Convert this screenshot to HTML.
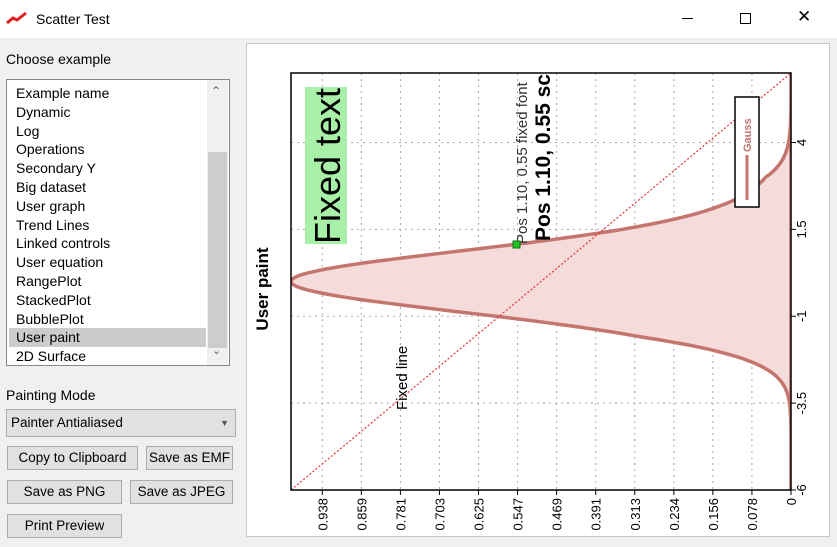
<!DOCTYPE html>
<html><head><meta charset="utf-8"><style>
body{margin:0;width:837px;height:547px;background:#f0f0f0;font-family:"Liberation Sans",sans-serif;position:relative;overflow:hidden}
.a{position:absolute}
.t{font-size:13px;color:#000}
.btn{position:absolute;background:#e1e1e1;border:1px solid #adadad;font-size:13.5px;text-align:center;box-sizing:border-box;line-height:21px}
</style></head><body>
<div class="a" style="left:0;top:0;width:837px;height:38px;background:#fff"></div>
<svg class="a" style="left:6px;top:10px" width="22" height="16"><path d="M1 13 L7 8 L11 10 L20 3" stroke="#e02020" stroke-width="3" fill="none"/></svg>
<div class="a" style="left:36px;top:11px;font-size:14px">Scatter Test</div>
<div class="a" style="left:682px;top:18px;width:11px;height:1px;background:#000"></div>
<div class="a" style="left:740px;top:13px;width:9px;height:9px;border:1px solid #000"></div>
<div class="a" style="left:797px;top:7px;font-size:17px">✕</div>
<div class="a t" style="left:6px;top:51px;font-size:14px">Choose example</div>
<div class="a" style="left:6px;top:79px;width:222px;height:285px;background:#fff;border:1px solid #828790"></div>
<div class="a" style="left:207px;top:80px;width:21px;height:285px;background:#f0f0f0"></div>
<div class="a" style="left:208px;top:152px;width:19px;height:196px;background:#cdcdcd"></div>
<div class="a" style="left:211px;top:84px;font-size:12px;color:#606060">⌃</div>
<div class="a" style="left:212px;top:344px;font-size:11px;color:#606060">⌄</div>
<div class="a" style="left:9px;top:328px;width:197px;height:19px;background:#cccccc"></div>
<div class="a t" style="left:16px;top:84px;line-height:18.8px;font-size:14px">Example name<br>Dynamic<br>Log<br>Operations<br>Secondary Y<br>Big dataset<br>User graph<br>Trend Lines<br>Linked controls<br>User equation<br>RangePlot<br>StackedPlot<br>BubblePlot<br>User paint<br>2D Surface</div>
<div class="a t" style="left:6px;top:387px;font-size:14px">Painting Mode</div>
<div class="btn" style="left:6px;top:409px;width:230px;height:28px;line-height:26px;text-align:left;padding-left:4px">Painter Antialiased<span style="position:absolute;right:6px;top:0;font-size:9px;color:#555">▼</span></div>
<div class="btn" style="left:7px;top:446px;width:131px;height:24px">Copy to Clipboard</div>
<div class="btn" style="left:146px;top:446px;width:87px;height:24px">Save as EMF</div>
<div class="btn" style="left:7px;top:480px;width:115px;height:24px">Save as PNG</div>
<div class="btn" style="left:130px;top:480px;width:103px;height:24px">Save as JPEG</div>
<div class="btn" style="left:7px;top:514px;width:115px;height:24px">Print Preview</div>
<div class="a" style="left:246px;top:43px;width:584px;height:494px;background:#fff;border:1px solid #c8c8c8;box-sizing:border-box"></div>
<svg class="a" style="left:0;top:0" width="837" height="547" font-family="Liberation Sans, sans-serif">
<defs><clipPath id="c"><rect x="291" y="73" width="500" height="417"/></clipPath><clipPath id="p"><rect x="246" y="43" width="584" height="494"/></clipPath></defs>
<text transform="translate(268,289) rotate(-90)" font-size="17" font-weight="bold" text-anchor="middle">User paint</text>
<g stroke="#aaa" stroke-dasharray="2,4" stroke-width="1" id="grid"></g>
<path id="g" clip-path="url(#c)" fill="#f5dcdb" stroke="#c4756e" stroke-width="3.5" stroke-linejoin="round"/>
<line x1="291" y1="490" x2="791" y2="73" stroke="#e83030" stroke-width="1.2" stroke-dasharray="2,2"/>
<rect x="305" y="87" width="42" height="157" fill="#a8f0a8"/>
<text transform="translate(340,244) rotate(-90)" font-size="36" textLength="156" lengthAdjust="spacingAndGlyphs">Fixed text</text>
<g clip-path="url(#c)">
<text transform="translate(527,244) rotate(-90)" font-size="15" fill="#333">Pos 1.10, 0.55 fixed font</text>
<text transform="translate(550,241) rotate(-90)" font-size="21" font-weight="bold">Pos 1.10, 0.55 scaled</text>
</g>
<rect x="513" y="241" width="7" height="7" fill="#20c020" stroke="#107010"/>
<text transform="translate(407,410) rotate(-90)" font-size="15">Fixed line</text>
<rect x="735" y="97" width="24" height="110" fill="#fff" stroke="#000" stroke-width="1.5"/>
<line x1="747" y1="155" x2="747" y2="200" stroke="#c4756e" stroke-width="3"/>
<text transform="translate(751,152) rotate(-90)" font-size="11" fill="#c4756e" font-weight="bold">Gauss</text>
<rect x="291" y="73" width="500" height="417" fill="none" stroke="#000" stroke-width="1.5"/>
<g id="ticks" clip-path="url(#p)" font-size="13"></g>
</svg>
<script>
var ns="http://www.w3.org/2000/svg";
function X(v){return 791-500*v}function Y(v){return 490-(v+6)*34.75}
var d="M791,490";for(var y=-6;y<=6.001;y+=0.04){var s2=0.88+0.07*Math.min(y*y,y>0?9:2.5);d+=" L"+X(Math.exp(-y*y/(2*s2))).toFixed(1)+","+Y(y).toFixed(1)}d+=" L791,73 Z";
document.getElementById("g").setAttribute("d",d);
var gr=document.getElementById("grid"),tk=document.getElementById("ticks");
function el(p,n,a,t){var e=document.createElementNS(ns,n);for(var k in a)e.setAttribute(k,a[k]);if(t)e.textContent=t;p.appendChild(e)}
var xl=["0","0.078","0.156","0.234","0.313","0.391","0.469","0.547","0.625","0.703","0.781","0.859","0.938"];
for(var i=0;i<13;i++){var x=791-i*39.06;if(i>0)el(gr,"line",{x1:x,y1:73,x2:x,y2:490});
el(tk,"line",{x1:x,y1:490,x2:x,y2:495,stroke:"#000"});
el(tk,"text",{transform:"translate("+(x+5)+",498) rotate(-90)","text-anchor":"end"},xl[i]);}
var yl=["-6","-3.5","-1","1.5","4"];
for(var j=0;j<5;j++){var yy=Y(-6+2.5*j);if(j>0)el(gr,"line",{x1:291,y1:yy,x2:791,y2:yy});
el(tk,"line",{x1:791,y1:yy,x2:796,y2:yy,stroke:"#000"});
el(tk,"text",{transform:"translate(806,"+yy+") rotate(-90)","text-anchor":"middle"},yl[j]);}
</script>
</body></html>
